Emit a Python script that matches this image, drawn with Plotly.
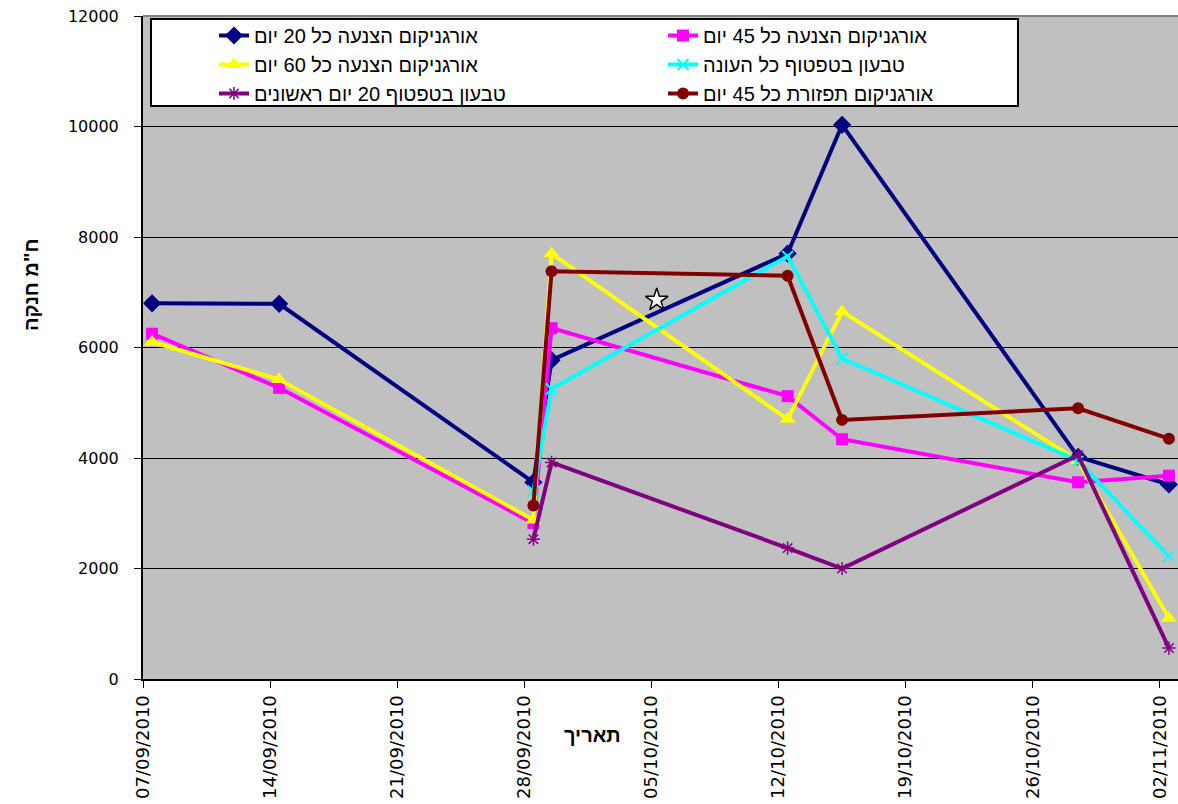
import pandas as pd
import plotly.graph_objects as go

# Sampling dates
dates_full = ["2010-09-07", "2010-09-14", "2010-09-28", "2010-09-29",
              "2010-10-12", "2010-10-15", "2010-10-28", "2010-11-02"]
dates_late = ["2010-09-28", "2010-09-29", "2010-10-12", "2010-10-15",
              "2010-10-28", "2010-11-02"]

# Nitrate readings (ppm) per treatment
org_20 = [6800, 6790, 3560, 5770, 7700, 10030, 4020, 3520]
org_45 = [6250, 5270, 2820, 6350, 5120, 4340, 3560, 3680]
org_60 = [6100, 5420, 2880, 7700, 4700, 6650, 3950, 1100]
tivon_season = [3400, 5250, 7650, 5800, 3950, 2220]
tivon_first20 = [2530, 3920, 2370, 2000, 4050, 560]
org_spread_45 = [3140, 7380, 7300, 4690, 4900, 4350]

# Marked point
star_date = "2010-10-05 07:00"
star_value = 6860

names = ["אורגניקום הצנעה כל 20 יום", "אורגניקום הצנעה כל 45 יום",
         "אורגניקום הצנעה כל 60 יום", "טבעון בטפטוף כל העונה",
         "טבעון בטפטוף 20 יום ראשונים", "אורגניקום תפזורת כל 45 יום"]

tick_dates = ["2010-09-07", "2010-09-14", "2010-09-21", "2010-09-28", "2010-10-05",
              "2010-10-12", "2010-10-19", "2010-10-26", "2010-11-02"]


def mid_day(ds):
    # place each reading in the centre of its day slot
    return pd.to_datetime(ds) + pd.Timedelta(hours=12)


series = [
    (dates_full, org_20, names[0], "#000080", dict(symbol="diamond", size=14)),
    (dates_full, org_45, names[1], "#FF00FF", dict(symbol="square", size=12)),
    (dates_full, org_60, names[2], "#FFFF00", dict(symbol="triangle-up", size=14)),
    (dates_late, tivon_season, names[3], "#00FFFF",
     dict(symbol="x-thin-open", size=11, line=dict(width=2, color="#00FFFF"))),
    (dates_late, tivon_first20, names[4], "#800080",
     dict(symbol="asterisk-open", size=11, line=dict(width=1.5, color="#800080"))),
    (dates_late, org_spread_45, names[5], "#800000", dict(symbol="circle", size=12)),
]

fig = go.Figure()
for ds, vals, name, color, mk in series:
    fig.add_trace(go.Scatter(
        x=mid_day(ds), y=vals, name=name, mode="lines+markers",
        line=dict(color=color, width=4),
        marker=dict(color=color, **mk),
    ))

fig.add_trace(go.Scatter(
    x=[pd.Timestamp(star_date)], y=[star_value], mode="markers", showlegend=False,
    marker=dict(symbol="star", size=17, color="white", line=dict(color="black", width=1.5)),
))

L, R, T, B = 143, 0, 16, 125
W, H = 1178, 804
pw, ph = W - L - R, H - T - B


def px_x(p):
    return (p - L) / pw


def px_y(p):
    return (H - B - p) / ph


fig.update_layout(
    width=W, height=H,
    margin=dict(l=L, r=R, t=T, b=B),
    paper_bgcolor="white", plot_bgcolor="#C0C0C0",
    showlegend=True,
    legend=dict(
        orientation="h", x=px_x(214), y=px_y(16), xanchor="left", yanchor="top",
        bgcolor="rgba(0,0,0,0)", borderwidth=0,
        entrywidth=404, entrywidthmode="pixels",
        font=dict(family="Liberation Sans, sans-serif", size=20, color="black"),
        traceorder="normal",
    ),
    xaxis=dict(
        type="date", range=["2010-09-07", "2010-11-03"],
        tickmode="array", tickvals=tick_dates, tickformat="%d/%m/%Y",
        tickangle=-90, showgrid=False, zeroline=False,
        showline=True, linecolor="black", linewidth=2,
        ticks="outside", ticklen=7, tickcolor="black", tickwidth=1,
        tickfont=dict(family="DejaVu Sans", size=18, color="black"),
    ),
    yaxis=dict(
        range=[0, 12000], dtick=2000, tickformat="d",
        showgrid=True, gridcolor="black", gridwidth=1, zeroline=False,
        showline=True, linecolor="black", linewidth=2,
        ticks="outside", ticklen=7, tickcolor="black", tickwidth=1,
        ticklabelstandoff=12,
        tickfont=dict(family="DejaVu Sans", size=16, color="black"),
    ),
    shapes=[
        dict(type="line", xref="paper", yref="paper", x0=0, x1=1, y0=1, y1=1,
             line=dict(color="#808080", width=2)),
        dict(type="rect", xref="paper", yref="paper", layer="above",
             x0=px_x(151), x1=px_x(1018), y0=px_y(106), y1=px_y(19),
             fillcolor="white", line=dict(color="black", width=2)),
    ],
    annotations=[
        dict(text="ח\"מ חנקה", xref="paper", yref="paper", x=px_x(18), y=px_y(285),
             textangle=-90, showarrow=False,
             font=dict(family="Liberation Sans", size=20, color="black", weight="bold")),
        dict(text="תאריך", xref="paper", yref="paper", x=px_x(592), y=px_y(748),
             showarrow=False,
             font=dict(family="Liberation Sans", size=20, color="black", weight="bold")),
    ],
)

fig.write_html("out.html")
